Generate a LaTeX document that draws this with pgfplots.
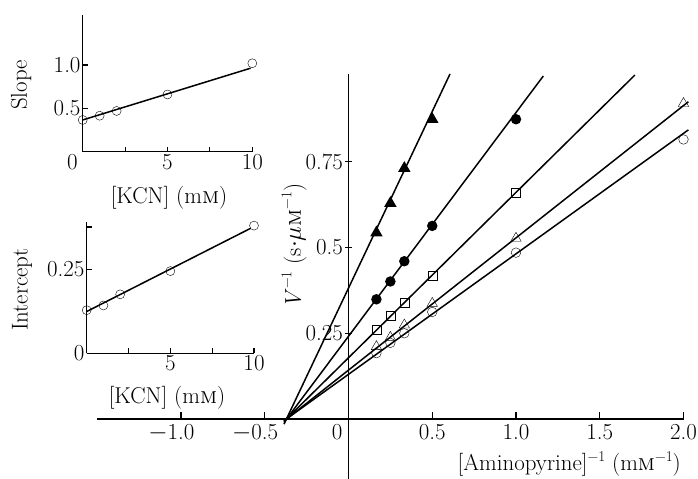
\documentclass[border=0pt]{standalone}
\usepackage{pgfplots}
\pgfplotsset{compat=1.18}

% Lineweaver-Burk data: V^{-1} against [Aminopyrine]^{-1} at five KCN levels
\pgfplotstableread{
x y
0.1667 0.192
0.25 0.222
0.3333 0.250
0.5 0.312
1 0.485
2 0.815
}\kcnzero
\pgfplotstableread{
x y
0.1667 0.211
0.25 0.238
0.3333 0.274
0.5 0.337
1 0.527
2 0.920
}\kcnone
\pgfplotstableread{
x y
0.1667 0.259
0.25 0.301
0.3333 0.340
0.5 0.419
1 0.660
}\kcntwo
\pgfplotstableread{
x y
0.1667 0.349
0.25 0.401
0.3333 0.460
0.5 0.563
1 0.874
}\kcnfive
\pgfplotstableread{
x y
0.1667 0.543
0.25 0.629
0.3333 0.731
0.5 0.874
}\kcnten

\pgfplotsset{
  every axis/.append style={
    scale only axis, clip=false, anchor=origin,
    axis line style={line width=1.3bp, -},
    tick style={line width=1.1bp, black},
    major tick length=7bp,
    every tick label/.append style={inner sep=2bp},
  },
  plain lines/.style={
    every inner x axis line/.append style={-},
    every inner y axis line/.append style={-},
    every outer x axis line/.append style={-},
    every outer y axis line/.append style={-},
  },
  fit/.style={line width=1.5bp, black},
  pts/.style={only marks, black, mark options={line width=1.2bp, solid}},
}
\newcommand{\sups}[1]{\raisebox{0.42em}{\fontsize{15}{15}\selectfont #1}}

\begin{document}
\fontsize{23}{27}\selectfont
\begin{tikzpicture}
\useasboundingbox (0,0) rectangle (698bp,479bp);

% main double-reciprocal plot
\begin{axis}[
  at={(348.5bp,60bp)},
  width=586.25bp, height=404.7bp,
  xmin=-1.5, xmax=2.0, ymin=-0.175, ymax=1.005,
  axis lines=middle,
  hide obscured x ticks=false, hide obscured y ticks=false,
  xtick={-1,-0.5,0,0.5,1,1.5,2},
  xticklabels={{\llap{$-$}1.0},{\llap{$-$}0.5},{\makebox[0pt][r]{0\hspace{6bp}}},0.5,1.0,1.5,2.0},
  ytick={0.25,0.5,0.75},
  yticklabels={0.25,0.5,0.75},
  ytick align=center,
  xtick style={draw=none},
  plain lines,
]
% x tick marks stand above the axis line only
\pgfplotsinvokeforeach{-1,-0.5,0.5,1,1.5,2}{
  \draw[line width=1.1bp] (axis cs:#1,0) -- (axis cs:#1,0.02);
}
\addplot[fit] coordinates {(-0.385,-0.015) (0.606,1.006)};
\addplot[fit] coordinates {(-0.385,-0.010) (1.163,1.000)};
\addplot[fit] coordinates {(-0.385,-0.007) (1.710,1.003)};
\addplot[fit] coordinates {(-0.385,-0.006) (2.029,0.925)};
\addplot[fit] coordinates {(-0.385,-0.005) (2.029,0.843)};
\addplot[pts, mark=o, mark size=4.8bp, mark options={fill=white}] table {\kcnzero};
\addplot[pts, mark=triangle, mark size=6bp, mark options={fill=white}] table {\kcnone};
\addplot[pts, mark=square, mark size=4.5bp, mark options={fill=white}] table {\kcntwo};
\addplot[pts, mark=*, mark size=4.6bp] table {\kcnfive};
\addplot[pts, mark=triangle*, mark size=6bp] table {\kcnten};
\end{axis}

% inset: slope against [KCN]
\begin{axis}[
  at={(82.7bp,327.3bp)},
  width=169.6bp, height=137bp,
  xmin=0, xmax=10, ymin=0, ymax=1.58,
  axis x line=bottom, axis y line=left,
  tick align=inside, major tick length=5bp,
  xtick={0,2.5,5,7.5,10},
  xticklabels={{\makebox[0pt][r]{0\hspace{5bp}}},,5,,10},
  ytick={0.5,1.0}, yticklabels={0.5,1.0},
  plain lines,
]
\addplot[fit] coordinates {(0,0.366) (9.9,0.963)};
\addplot[pts, mark=o, mark size=4.5bp, mark options={fill=white}] coordinates {
  (0,0.366) (1,0.415) (2,0.47) (5,0.66) (10,1.02)};
\end{axis}

% inset: intercept against [KCN]
\begin{axis}[
  at={(86.7bp,125.7bp)},
  width=167.3bp, height=131.4bp,
  xmin=0, xmax=10, ymin=0, ymax=0.39,
  axis x line=bottom, axis y line=left,
  tick align=inside, major tick length=5bp,
  xtick={2.5,5,7.5,10}, xticklabels={,5,,10},
  ytick={0,0.25,0.375}, yticklabels={0,0.25,{}},
  plain lines,
]
\addplot[fit] coordinates {(0,0.124) (9.8,0.371)};
\addplot[pts, mark=o, mark size=4.5bp, mark options={fill=white}] coordinates {
  (0,0.128) (1,0.142) (2,0.175) (5,0.244) (10,0.379)};
\end{axis}

% axis titles
\node[rotate=90] at (21bp,394bp) {Slope};
\node at (169bp,281bp) {[KCN] (m\textsc{m})};
\node[rotate=90] at (22bp,189.5bp) {Intercept};
\node at (167bp,81bp) {[KCN] (m\textsc{m})};
\node[anchor=base east, inner sep=0pt] at (681bp,8.3bp) {[Aminopyrine]\sups{−1} (m\textsc{m}\sups{−1})};
\node[rotate=90] at (294bp,233bp) {\textit{V}\sups{−1} (s$\cdot\mu$\textsc{m}\sups{−1})};
\end{tikzpicture}
\end{document}
